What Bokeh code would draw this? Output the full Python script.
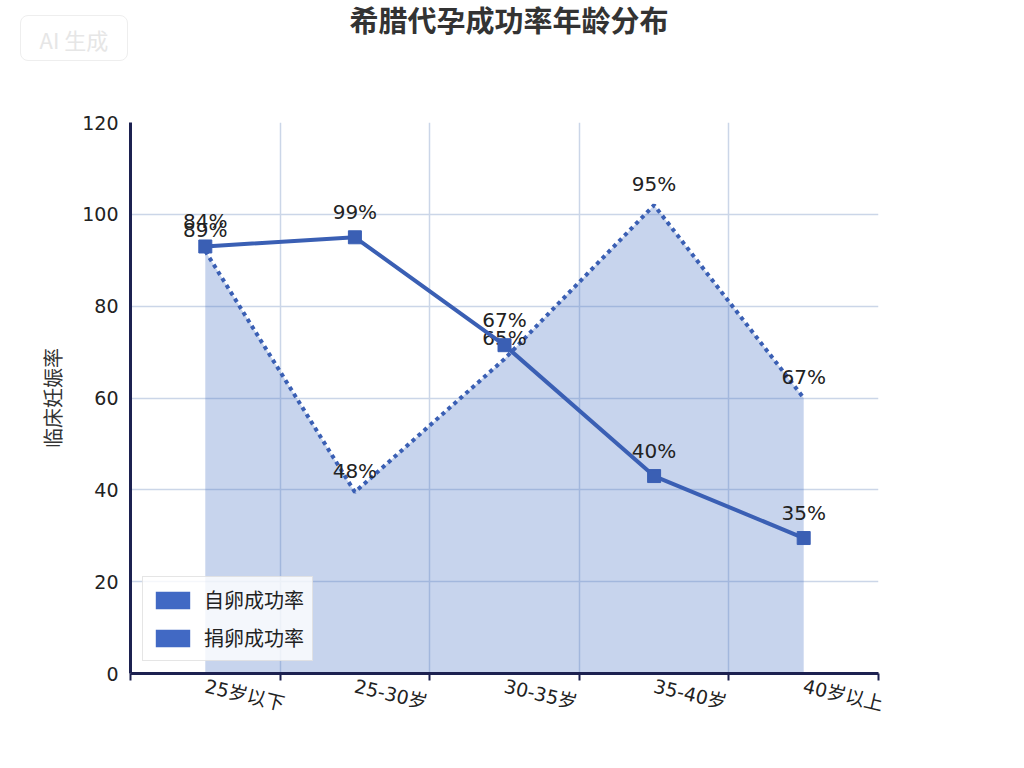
from bokeh.plotting import figure
from bokeh.layouts import column
from bokeh.models import (Range1d, FixedTicker, Legend, LegendItem,
                          ColumnDataSource, Div)
from bokeh.core.properties import value
from bokeh.embed import file_html
from bokeh.resources import INLINE

# ---- data ----
title_text = "希腊代孕成功率年龄分布"
watermark_text = "AI 生成"
categories = ["25岁以下", "25-30岁", "30-35岁", "35-40岁", "40岁以上"]
own_values = [93, 95, 71.5, 43, 29.5]          # 自卵成功率 (solid line)
own_labels = ["84%", "99%", "67%", "40%", "35%"]
donor_values = [92, 39.5, 68.5, 102, 60]        # 捐卵成功率 (dotted area)
donor_labels = ["89%", "48%", "65%", "95%", "67%"]
y_ticks = [0, 20, 40, 60, 80, 100, 120]
series_names = ["自卵成功率", "捐卵成功率"]

xs = [i + 0.5 for i in range(len(categories))]
NAVY = "#1c2150"
BLUE = "#3a5fb4"
CJK = "DejaVu Sans, Noto Sans CJK SC"

# header (title + faint watermark)
header_html = (
    '<div style="position:relative;width:1008px;height:70px;'
    "font-family:'Noto Sans CJK SC',sans-serif;\">"
    '<div style="position:absolute;left:0;top:0;width:1008px;'
    'text-align:center;font-size:29px;font-weight:bold;color:#333333;'
    'line-height:29px;">' + title_text + '</div>'
    '<div style="position:absolute;left:15px;top:10px;width:108px;height:46px;'
    'border:1px solid #eeeeee;border-radius:8px;color:#e6e6e6;font-size:22px;'
    'line-height:46px;text-align:center;">' + watermark_text + '</div>'
    '</div>'
)
header = Div(text=header_html, width=1008, height=70)

p = figure(width=1008, height=672, output_backend="svg", toolbar_location=None,
           x_range=Range1d(0, len(categories)), y_range=Range1d(0, 120),
           min_border_left=130, min_border_right=130, min_border_top=42,
           min_border_bottom=79)
p.outline_line_color = None

# grid
p.xgrid.ticker = FixedTicker(ticks=list(range(len(categories) + 1)))
p.ygrid.ticker = FixedTicker(ticks=y_ticks)
for g in (p.xgrid, p.ygrid):
    g.grid_line_color = "#cbd6e8"
    g.grid_line_width = 1.5

# axes
xa = p.xaxis[0]
xa.ticker = FixedTicker(ticks=xs, minor_ticks=list(range(len(categories) + 1)))
xa.major_label_overrides = {x: c for x, c in zip(xs, categories)}
xa.major_tick_out = 0
xa.major_tick_in = 0
xa.minor_tick_out = 7
xa.minor_tick_in = 0
xa.minor_tick_line_color = NAVY
xa.minor_tick_line_width = 2
xa.axis_line_color = NAVY
xa.axis_line_width = 3
xa.major_label_orientation = -0.23
xa.major_label_text_font_size = "19px"
xa.major_label_text_color = "#222222"
xa.major_label_text_font = CJK
xa.major_label_standoff = 5

ya = p.yaxis[0]
ya.ticker = FixedTicker(ticks=y_ticks)
ya.major_tick_out = 0
ya.major_tick_in = 0
ya.minor_tick_out = 0
ya.minor_tick_in = 0
ya.axis_line_color = NAVY
ya.axis_line_width = 3
ya.major_label_text_font_size = "19px"
ya.major_label_text_color = "#222222"
ya.major_label_text_font = CJK
ya.major_label_standoff = 12
ya.axis_label = "临床妊娠率"
ya.axis_label_text_font_size = "20px"
ya.axis_label_text_font_style = "normal"
ya.axis_label_text_color = "#333333"
ya.axis_label_text_font = "Noto Sans CJK SC"
ya.axis_label_standoff = 12

# donor area + dotted line
src_d = ColumnDataSource(dict(x=xs, y=donor_values, lab=donor_labels))
p.varea(x="x", y1=0, y2="y", source=src_d, fill_color="#4472c4", fill_alpha=0.3)
p.line(x="x", y="y", source=src_d, line_color=BLUE, line_width=4,
       line_dash="4 4")
p.text(x="x", y="y", text="lab", source=src_d, text_align="center",
       text_baseline="bottom", y_offset=-9, text_font_size="20px",
       text_color="#222222", text_font=value("DejaVu Sans"))

# own solid line
src_o = ColumnDataSource(dict(x=xs, y=own_values, lab=own_labels))
p.line(x="x", y="y", source=src_o, line_color=BLUE, line_width=4)
p.scatter(x="x", y="y", source=src_o, marker="square", size=13,
          fill_color=BLUE, line_color=BLUE)
p.text(x="x", y="y", text="lab", source=src_o, text_align="center",
       text_baseline="bottom", y_offset=-13, text_font_size="20px",
       text_color="#222222", text_font=value("DejaVu Sans"))

# legend swatches (zero-size rects so only the legend shows them)
sw1 = p.rect(x="x", y="y", width=0, height=0, source=src_o,
             fill_color="#4169c4", line_color=None)
sw2 = p.rect(x="x", y="y", width=0, height=0, source=src_d,
             fill_color="#4169c4", line_color=None)
legend = Legend(items=[LegendItem(label=series_names[0], renderers=[sw1]),
                       LegendItem(label=series_names[1], renderers=[sw2])],
                location="bottom_left", margin=12, padding=8, spacing=9,
                glyph_width=43, glyph_height=22, label_height=22,
                label_standoff=10, label_text_font_size="20px",
                label_text_font="Noto Sans CJK SC", label_text_color="#222222",
                border_line_color="#cccccc", background_fill_alpha=0.8)
p.add_layout(legend, "center")

layout = column(header, p, spacing=0)
open("out.html", "w").write(file_html(layout, INLINE))
